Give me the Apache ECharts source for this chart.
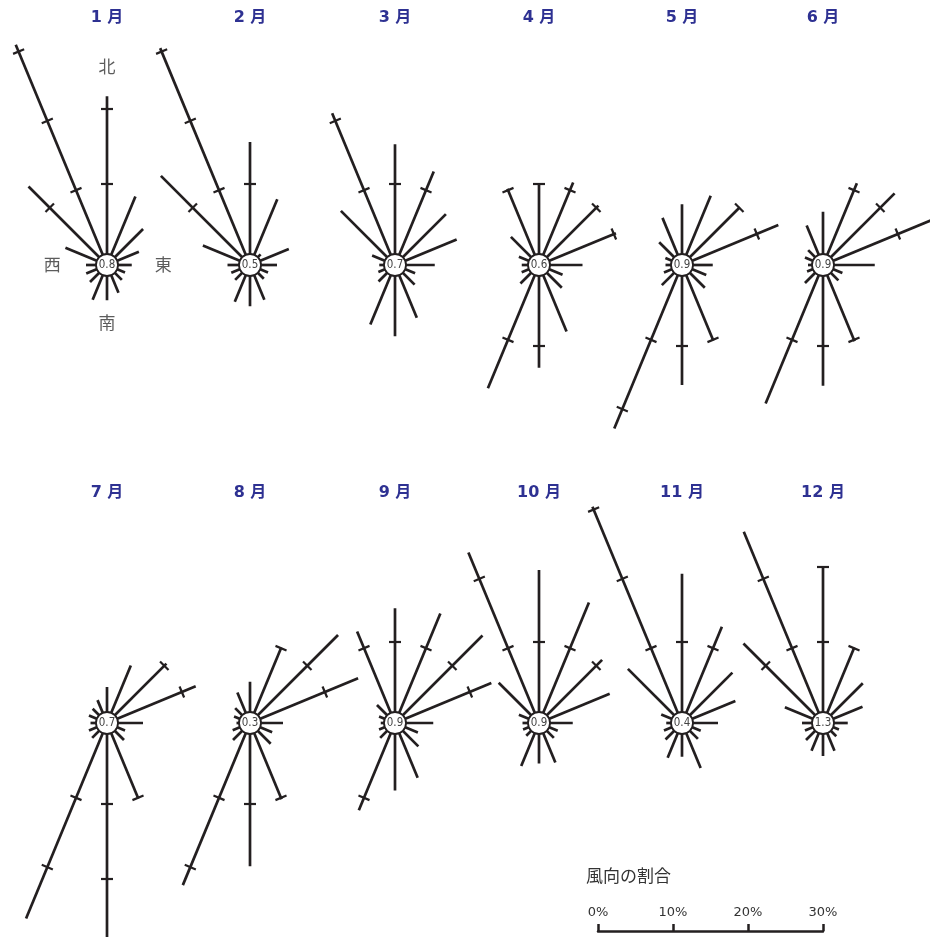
<!DOCTYPE html>
<html>
<head>
<meta charset="utf-8">
<script src="https://cdn.jsdelivr.net/npm/echarts@6/dist/echarts.min.js"></script>
<style>
  html, body { margin: 0; padding: 0; background: #fff; }
  #chart { width: 930px; height: 937px; }
</style>
</head>
<body>
<div id="chart"></div>
<script>
// ---- Data ----
const directions = ['北','北北東','北東','東北東','東','東南東','南東','南南東','南','南南西','南西','西南西','西','西北西','北西','北北西'];
const monthLabels = ['1 月','2 月','3 月','4 月','5 月','6 月','7 月','8 月','9 月','10 月','11 月','12 月'];
const calm = [0.8, 0.5, 0.7, 0.6, 0.9, 0.9, 0.7, 0.3, 0.9, 0.9, 0.4, 1.3];
// percentages per direction (N, NNE, ..., NNW)
const jan = [21.7, 9.1, 6.0, 3.8, 2.5, 1.8, 2.0, 3.2, 3.9, 4.2, 2.4, 2.2, 2.0, 5.2, 14.0, 31.0];
const feb = [15.6, 8.7, 1.2, 4.8, 2.8, 1.8, 1.8, 4.2, 4.7, 4.5, 2.0, 1.9, 2.2, 6.0, 16.0, 30.5];
const mar = [15.3, 12.7, 8.8, 8.1, 4.5, 2.1, 2.9, 6.8, 8.7, 7.8, 2.3, 1.6, 1.3, 2.5, 9.4, 21.1];
const apr = [10.1, 11.1, 10.4, 10.3, 5.0, 2.6, 3.5, 8.8, 12.9, 17.0, 2.7, 1.7, 1.5, 2.1, 4.5, 10.2];
const may = [7.3, 9.2, 10.1, 13.1, 3.3, 2.7, 3.5, 10.1, 15.2, 22.8, 3.0, 1.8, 1.4, 1.6, 3.5, 6.0];
const jun = [6.3, 11.0, 12.7, 15.0, 6.1, 2.0, 2.1, 10.2, 15.3, 19.2, 2.6, 1.5, 1.2, 1.8, 2.0, 4.9];
const jul = [4.0, 7.5, 10.4, 12.0, 4.0, 1.8, 2.4, 10.1, 28.0, 27.4, 2.0, 1.8, 1.4, 1.8, 1.9, 2.5];
const aug = [4.7, 10.1, 15.8, 14.8, 3.6, 2.4, 3.1, 10.2, 18.3, 22.6, 2.4, 1.7, 1.0, 1.5, 2.0, 3.6];
const sep = [14.5, 15.0, 15.7, 13.1, 4.3, 2.5, 3.6, 7.1, 8.2, 11.8, 2.0, 1.5, 1.1, 1.5, 2.6, 12.4];
const oct = [19.6, 16.6, 11.1, 9.4, 3.7, 1.9, 2.0, 4.9, 4.6, 5.4, 1.6, 1.5, 1.4, 2.1, 6.8, 23.8];
const nov = [19.1, 13.1, 8.7, 6.9, 4.0, 1.9, 2.2, 5.7, 3.7, 4.2, 2.3, 1.8, 1.3, 2.2, 9.4, 30.4];
const dec = [20.1, 10.1, 6.7, 4.9, 2.5, 1.5, 1.7, 3.2, 3.6, 3.2, 2.4, 1.8, 2.0, 4.7, 14.2, 26.8];
const months = [jan, feb, mar, apr, may, jun, jul, aug, sep, oct, nov, dec];
const tickValues = [10, 20, 30];
const scaleTicks = [0, 10, 20, 30];
const compassLabels = [['北', 25.7], ['東', 6.7], ['南', 6.9], ['西', 6.5]];

// ---- Layout / style ----
const INK = '#231f20';
const colX = [107, 250, 395, 539, 682, 823];
const rowY = [265, 723];
const titleY = [18, 493];
const R_MIN = -0.8, R_MAX = 40, PX_PER_PCT = 7.5;
const RADIUS = (R_MAX - R_MIN) * PX_PER_PCT;

function renderRose(params, api) {
  const v = api.value(0);
  const idx = api.value(1);
  const c = api.coord([R_MIN, idx]);
  const e = api.coord([v, idx]);
  const dx = e[0] - c[0], dy = e[1] - c[1];
  const len = Math.hypot(dx, dy) || 1;
  const px = -dy / len, py = dx / len;
  const children = [{
    type: 'line',
    shape: { x1: c[0], y1: c[1], x2: e[0], y2: e[1] },
    style: { stroke: INK, lineWidth: 2.7, lineCap: 'butt' }
  }];
  tickValues.forEach(t => {
    if (v >= t - 0.3) {
      const p = api.coord([t, idx]);
      children.push({
        type: 'line',
        shape: { x1: p[0] - px * 6, y1: p[1] - py * 6, x2: p[0] + px * 6, y2: p[1] + py * 6 },
        style: { stroke: INK, lineWidth: 2.2, lineCap: 'butt' }
      });
    }
  });
  return { type: 'group', children };
}

const polar = [], angleAxis = [], radiusAxis = [], series = [], graphic = [];
months.forEach((vals, i) => {
  const cx = colX[i % 6], cy = rowY[Math.floor(i / 6)];
  polar.push({ center: [cx, cy], radius: RADIUS });
  angleAxis.push({
    polarIndex: i, type: 'category', data: directions, startAngle: 90 + 11.25, clockwise: true,
    show: false, axisLine: { show: false }, axisTick: { show: false }, axisLabel: { show: false }, splitLine: { show: false }
  });
  radiusAxis.push({
    polarIndex: i, type: 'value', min: R_MIN, max: R_MAX, show: false,
    axisLine: { show: false }, axisTick: { show: false }, axisLabel: { show: false }, splitLine: { show: false }
  });
  series.push({
    type: 'custom', coordinateSystem: 'polar', polarIndex: i, clip: false, silent: true,
    data: vals.map((v, j) => [v, j]),
    renderItem: renderRose, z: 2
  });
  series.push({
    type: 'scatter', coordinateSystem: 'polar', polarIndex: i, silent: true,
    data: [[R_MIN, 0, calm[i]]],
    symbol: 'circle', symbolSize: 22,
    itemStyle: { color: '#fff', borderColor: INK, borderWidth: 1.8, opacity: 1 },
    label: {
      show: true, position: 'inside', color: '#444', fontSize: 11.5,
      fontFamily: "'DejaVu Sans Condensed', 'Liberation Sans Narrow', 'Noto Sans', sans-serif",
      formatter: p => p.data[2].toFixed(1)
    },
    z: 5
  });
  graphic.push({
    type: 'text', x: cx, y: titleY[Math.floor(i / 6)],
    style: {
      text: monthLabels[i], textAlign: 'center', textVerticalAlign: 'middle',
      fill: '#2e3192', font: "bold 16px 'DejaVu Sans', 'Noto Sans CJK JP', sans-serif"
    }
  });
});

// compass labels on the January rose
series.push({
  type: 'scatter', coordinateSystem: 'polar', polarIndex: 0, silent: true,
  data: compassLabels.map(d => [d[1], d[0], d[0]]),
  symbolSize: 0,
  label: {
    show: true, position: 'inside', color: '#333', fontSize: 17,
    fontFamily: "'Noto Sans CJK JP', sans-serif",
    formatter: p => p.data[2]
  },
  z: 6
});

graphic.push({
  type: 'text', x: 586, y: 876,
  style: { text: '風向の割合', textAlign: 'left', textVerticalAlign: 'middle', fill: '#333', font: "17px 'Noto Sans CJK JP', sans-serif" }
});

const option = {
  backgroundColor: '#fff',
  animation: false,
  polar, angleAxis, radiusAxis,
  grid: { left: 598, width: 225, top: 921, height: 10 },
  xAxis: {
    type: 'value', min: scaleTicks[0], max: scaleTicks[scaleTicks.length - 1], interval: 10,
    position: 'bottom',
    axisLine: { show: true, lineStyle: { color: INK, width: 2.5 } },
    axisTick: { show: true, inside: true, length: 7, lineStyle: { color: INK, width: 2.5 } },
    axisLabel: { show: true, inside: true, margin: 12, color: '#333', fontSize: 13, fontFamily: "'DejaVu Sans', sans-serif", formatter: '{value}%' },
    splitLine: { show: false }
  },
  yAxis: { type: 'value', show: false },
  graphic,
  series
};

const chart = echarts.init(document.getElementById('chart'), null, { renderer: 'canvas' });
chart.setOption(option);
</script>
</body>
</html>
